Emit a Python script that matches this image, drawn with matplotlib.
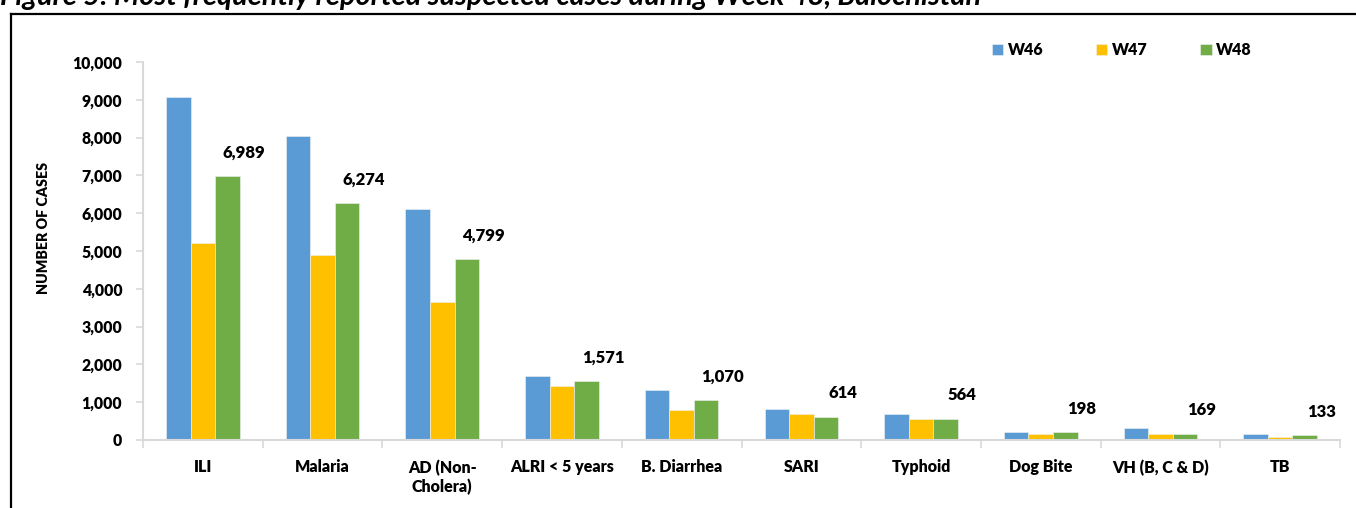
import numpy as np
import matplotlib
matplotlib.use("Agg")
import matplotlib.pyplot as plt
from matplotlib.lines import Line2D

# --- data ---
categories = ["ILI", "Malaria", "AD (Non-\nCholera)", "ALRI < 5 years", "B. Diarrhea",
              "SARI", "Typhoid", "Dog Bite", "VH (B, C & D)", "TB"]
w46 = [9070, 8030, 6100, 1690, 1310, 810, 700, 210, 310, 160]
w47 = [5220, 4900, 3640, 1420, 790, 700, 550, 150, 150, 80]
w48 = [6989, 6274, 4799, 1571, 1070, 614, 564, 198, 169, 133]
series_names = ["W46", "W47", "W48"]
colors = ["#5B9BD5", "#FFC000", "#70AD47"]
title = "Figure 5: Most frequently reported suspected cases during Week 48, Balochistan"

plt.rcParams['font.family'] = ['Lato', 'DejaVu Sans']
W = 'heavy'

fig = plt.figure(figsize=(13.56, 5.08), dpi=100)
ax = fig.add_axes([0.1055, 0.1339, 0.8827, 0.7441])

x = np.arange(len(categories))
bw = 0.205
for i, (vals, name, col) in enumerate(zip([w46, w47, w48], series_names, colors)):
    ax.bar(x + (i - 1) * bw, vals, width=bw, color=col, label=name,
           edgecolor='#F2F2F2', linewidth=0.4)

# value labels on the latest week only
for xi, v in zip(x, w48):
    ax.annotate(f"{v:,}", (xi + bw, v), xytext=(12, 11), textcoords='offset points',
                ha='center', va='bottom', fontsize=12, fontweight=W)

ax.set_xlim(-0.5, len(categories) - 0.5)
ax.set_ylim(0, 10000)
ax.set_yticks(np.arange(0, 10001, 1000))
ax.set_yticklabels([f"{t:,}" for t in range(0, 10001, 1000)], fontsize=11.3, fontweight=W)
ax.set_xticks(x)
ax.set_xticklabels(categories, fontsize=11.5, fontweight=W)
ax.set_xticks(np.arange(-0.5, len(categories), 1), minor=True)
ax.tick_params(axis='x', which='major', length=0, pad=14)
ax.tick_params(axis='x', which='minor', length=6, color='#D9D9D9', width=1.2)
ax.tick_params(axis='y', length=5, color='#D9D9D9', width=1.2, pad=10)

for s in ['top', 'right']:
    ax.spines[s].set_visible(False)
for s in ['left', 'bottom']:
    ax.spines[s].set_color('#D9D9D9')
    ax.spines[s].set_linewidth(1.5)

ax.set_ylabel("NUMBER OF CASES", fontsize=10.3, fontweight=W)
ax.yaxis.set_label_coords(-0.0775, 0.56)

ax.legend(loc='center left', bbox_to_anchor=(0.697, 1.032), ncol=3, frameon=False,
          handlelength=0.7, handleheight=0.7, handletextpad=0.3,
          columnspacing=3.3, prop={'weight': W, 'size': 11.5})

# outer frame, clipped by the image like the source page
fig.add_artist(Line2D([0.0081, 0.0081], [0.0, 0.9724], color='black', lw=1.6,
                      transform=fig.transFigure))
fig.add_artist(Line2D([0.0081, 1.0], [0.9724, 0.9724], color='black', lw=1.6,
                      transform=fig.transFigure))

# title sits mostly above the crop, as in the source
fig.text(0.0, 0.991, title, fontsize=20.8, fontweight='bold', style='italic',
         ha='left', va='baseline')

fig.savefig("out.png", dpi=100)
